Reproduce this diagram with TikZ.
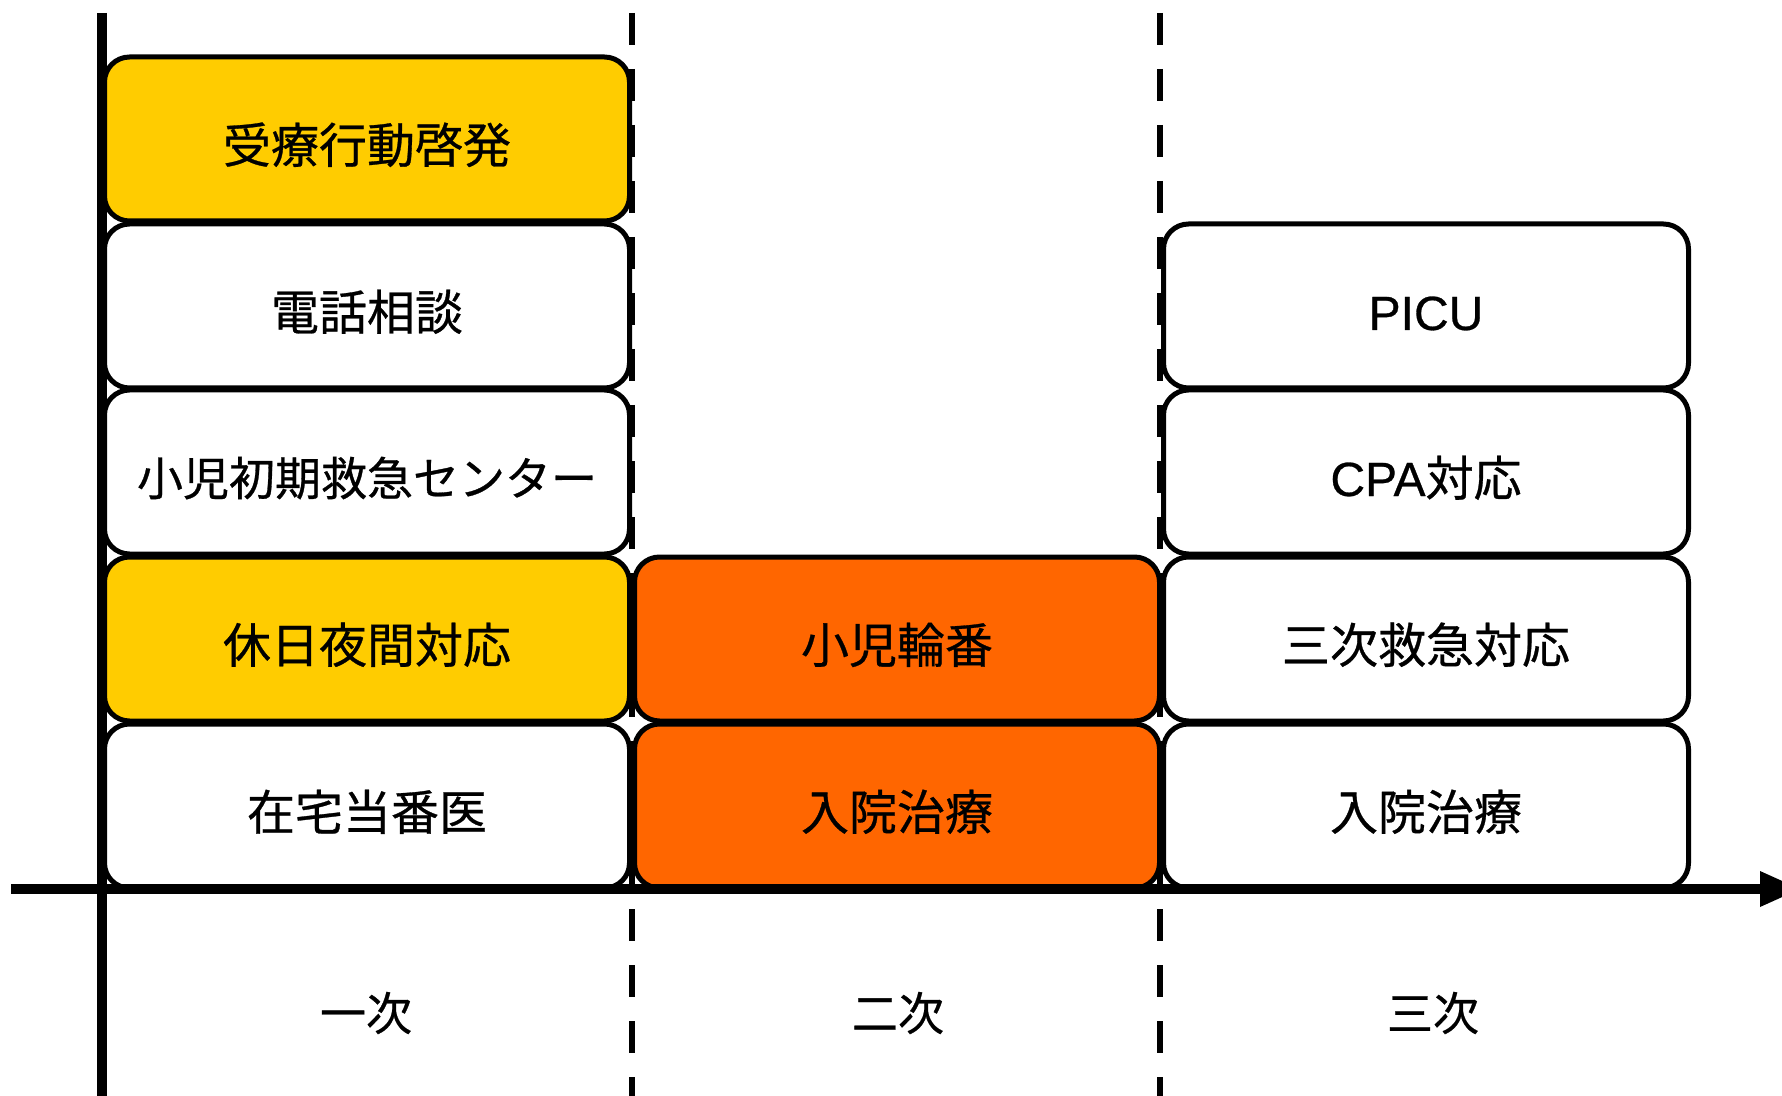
\documentclass[tikz,border=0pt]{standalone}
\usepackage{fontspec}
\setmainfont[FakeBold=0.6]{Noto Sans CJK JP}
\newfontfamily\latinfont[FakeBold=0.6]{Liberation Sans}
\definecolor{yel}{HTML}{FFCC00}
\definecolor{org}{HTML}{FF6600}
\begin{document}
\begin{tikzpicture}[x=0.5pt,y=-0.5pt,
  box/.style={draw=black, line width=2.5pt, rounded corners=12.5pt,
    minimum width=262.5pt, minimum height=82pt, inner sep=0pt, fill=white,
    text height=24pt, text depth=0pt,
    font=\fontsize{24pt}{28pt}\selectfont},
  ybox/.style={box, fill=yel},
  obox/.style={box, fill=org},
  lab/.style={inner sep=0pt, font=\fontsize{23pt}{27pt}\selectfont},
  axisline/.style={line width=5pt, draw=black},
  divline/.style={line width=3.2pt, draw=black, dash pattern=on 16pt off 12pt}]
\useasboundingbox (0,0) rectangle (1782,1096);
% divider lines
\coordinate (d1t) at (632,13); \coordinate (d1b) at (632,1100);
\coordinate (d2t) at (1160,13); \coordinate (d2b) at (1160,1100);
\draw[divline] (d1t) -- (d1b);
\draw[divline] (d2t) -- (d2b);
% column 1
\node[ybox] (a1) at (367,139) {受療行動啓発};
\node[box]  (a2) at (367,306) {電話相談};
\node[box, font=\fontsize{23pt}{27pt}\selectfont, text height=23.5pt]  (a3) at (367,472) {小児初期救急センター};
\node[ybox] (a4) at (367,639) {休日夜間対応};
\node[box]  (a5) at (367,806) {在宅当番医};
% column 2
\node[obox] (b4) at (897,639) {小児輪番};
\node[obox] (b5) at (897,806) {入院治療};
% column 3
\node[box] (c2) at (1426,306) {{\latinfont PICU}};
\node[box] (c3) at (1426,472) {{\latinfont CPA}対応};
\node[box] (c4) at (1426,639) {三次救急対応};
\node[box] (c5) at (1426,806) {入院治療};
% axes
\coordinate (vt) at (102,13); \coordinate (vb) at (102,1100);
\draw[axisline] (vt) -- (vb);
\coordinate (hs) at (11,889); \coordinate (he) at (1762,889);
\draw[axisline] (hs) -- (he);
\coordinate (tip) at (1800,889);
\fill[black] (1760,871) -- (tip) -- (1760,907) -- cycle;
% level labels
\node[lab] (l1) at (366,1013) {一次};
\node[lab] (l2) at (898,1013) {二次};
\node[lab] (l3) at (1433,1013) {三次};
\end{tikzpicture}
\end{document}
